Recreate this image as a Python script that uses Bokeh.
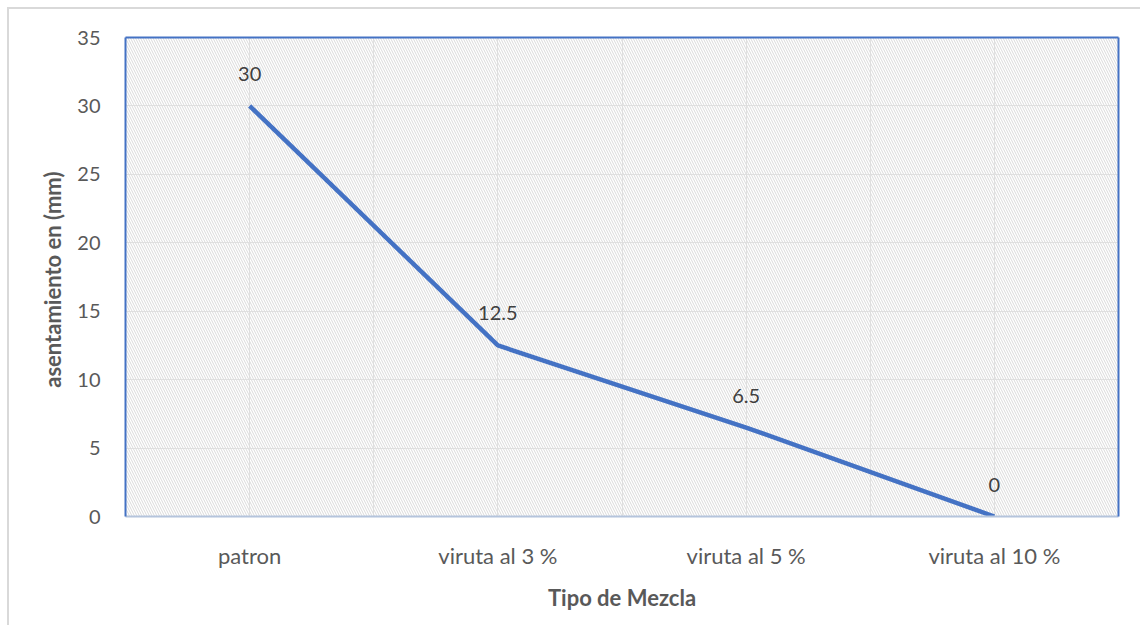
from bokeh.plotting import figure
from bokeh.models import Range1d, FixedTicker, LinearAxis, BoxAnnotation, ColumnDataSource
from bokeh.core.properties import value
from bokeh.embed import file_html
from bokeh.resources import INLINE

# Slump per mix type
categories = ["patron", "viruta al 3 %", "viruta al 5 %", "viruta al 10 %"]
asentamiento = [30, 12.5, 6.5, 0]
point_labels = ["30", "12.5", "6.5", "0"]
y_ticks = [0, 5, 10, 15, 20, 25, 30, 35]

FONT = "Lato"
TEXT_GRAY = "#595959"
BLUE = "#4472C4"
GRID = "#e2e2e2"

x_pos = list(range(1, len(categories) + 1))
source = ColumnDataSource(data=dict(x=x_pos, y=asentamiento, label=point_labels))

p = figure(
    width=1133, height=618,
    x_range=Range1d(0.5, len(categories) + 0.5),
    y_range=Range1d(0, 35),
    output_backend="svg", toolbar_location=None,
    min_border_left=116, min_border_right=24,
    min_border_top=28, min_border_bottom=111,
)
p.margin = (7, 0, 0, 7)
p.styles = {"border-top": "2px solid #d9d9d9", "border-left": "2px solid #d9d9d9"}
p.background_fill_color = "white"
p.border_fill_color = "white"
p.outline_line_color = None

# diagonal hatch over the plot area
p.add_layout(BoxAnnotation(fill_color=None, line_color=None,
                           hatch_pattern="\\", hatch_color="#dadada",
                           hatch_weight=1, hatch_scale=5, level="underlay"))

# grid
p.ygrid.ticker = FixedTicker(ticks=y_ticks)
p.ygrid.grid_line_color = GRID
p.xgrid.ticker = FixedTicker(ticks=[k / 2 for k in range(1, 2 * len(categories) + 2)])
p.xgrid.grid_line_color = GRID

# x axis
xa = p.xaxis[0]
xa.ticker = FixedTicker(ticks=x_pos)
xa.major_label_overrides = {i: c for i, c in zip(x_pos, categories)}
xa.axis_line_color = "#b4c4dc"
xa.axis_line_width = 2
xa.major_tick_line_color = None
xa.minor_tick_line_color = None
xa.major_label_standoff = 19
xa.major_label_text_font = FONT
xa.major_label_text_font_size = "22px"
xa.major_label_text_color = TEXT_GRAY
xa.axis_label = "Tipo de Mezcla"
xa.axis_label_text_font = FONT
xa.axis_label_text_font_size = "22px"
xa.axis_label_text_font_style = "bold"
xa.axis_label_text_color = TEXT_GRAY
xa.axis_label_standoff = 12

# y axis
ya = p.yaxis[0]
ya.ticker = FixedTicker(ticks=y_ticks)
ya.axis_line_color = BLUE
ya.axis_line_width = 2
ya.major_tick_line_color = None
ya.minor_tick_line_color = None
ya.major_label_standoff = 19
ya.major_label_text_font = FONT
ya.major_label_text_font_size = "20px"
ya.major_label_text_color = TEXT_GRAY
ya.axis_label = "asentamiento en  (mm)"
ya.axis_label_text_font = FONT
ya.axis_label_text_font_size = "22px"
ya.axis_label_text_font_style = "bold"
ya.axis_label_text_color = TEXT_GRAY
ya.axis_label_standoff = 8

# blue frame on top and right
for loc in ("above", "right"):
    ax = LinearAxis(major_tick_line_color=None, minor_tick_line_color=None,
                    major_label_text_font_size="0px", axis_line_color=BLUE,
                    axis_line_width=2, ticker=FixedTicker(ticks=[]))
    p.add_layout(ax, loc)

p.line("x", "y", source=source, line_color=BLUE, line_width=4.5, line_join="round")
p.text("x", "y", text="label", source=source, y_offset=-32,
       text_align="center", text_baseline="middle",
       text_font=value(FONT), text_font_size="20px", text_color="#404040")

open("out.html", "w").write(file_html(p, INLINE))
